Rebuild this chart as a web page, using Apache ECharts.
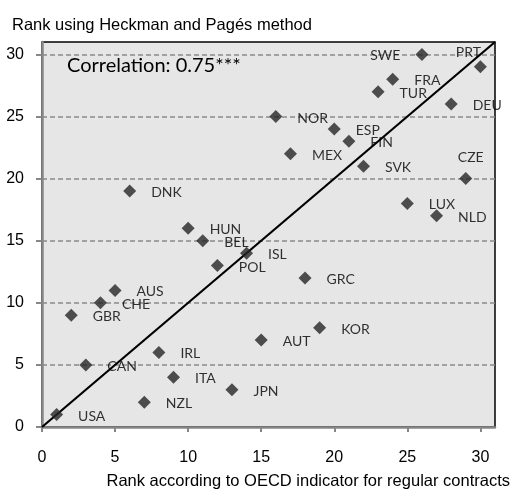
<!DOCTYPE html>
<html>
<head>
<meta charset="utf-8">
<script src="https://cdn.jsdelivr.net/npm/echarts@6/dist/echarts.min.js"></script>
<style>html,body{margin:0;padding:0;background:#fff;}#c{width:513px;height:490px;}</style>
</head>
<body>
<div id="c"></div>
<script>
const countries = ['USA','GBR','CAN','CHE','AUS','DNK','NZL','IRL','ITA','HUN','BEL','POL','JPN','ISL','AUT','NOR','MEX','GRC','KOR','ESP','FIN','SVK','TUR','FRA','LUX','SWE','NLD','DEU','CZE','PRT'];
const oecdRank = [1,2,3,4,5,6,7,8,9,10,11,12,13,14,15,16,17,18,19,20,21,22,23,24,25,26,27,28,29,30];
const heckmanRank = [1,9,5,10,11,19,2,6,4,16,15,13,3,14,7,25,22,12,8,24,23,21,27,28,18,30,17,26,20,29];
const tickValues = [0,5,10,15,20,25,30];
const gridValues = [5,10,15,20,25,30];
const diagonal = [0,31];
const yTitle = 'Rank using Heckman and Pagés method';
const xTitle = 'Rank according to OECD indicator for regular contracts';
const note = 'Correlation: 0.75***';

const labelOverrides = {
  SWE: {position:'left', distance:15, offset:[0,1]},
  PRT: {position:'inside', offset:[-12,-14]},
  CZE: {position:'inside', offset:[5,-21]}
};

const points = countries.map((c,i)=>{
  const d = {name:c, value:[oecdRank[i], heckmanRank[i]]};
  if (labelOverrides[c]) d.label = labelOverrides[c];
  return d;
});

const chart = echarts.init(document.getElementById('c'));
const axisGray = '#878787';
chart.setOption({
  animation:false,
  backgroundColor:'#ffffff',
  grid:{left:42, right:18, top:42, bottom:63, show:true, backgroundColor:'#e6e6e6', borderColor:'#000', borderWidth:1.5},
  xAxis:{type:'value', min:diagonal[0], max:diagonal[1], interval:5,
    axisLine:{lineStyle:{color:axisGray, width:2.5}},
    axisTick:{show:true, customValues:tickValues, length:5, lineStyle:{color:axisGray, width:2}},
    axisLabel:{customValues:tickValues, margin:23, fontSize:16, color:'#000', fontFamily:'Liberation Sans'},
    splitLine:{show:false}},
  yAxis:{type:'value', min:diagonal[0], max:diagonal[1], interval:5,
    axisLine:{show:true, lineStyle:{color:axisGray, width:2.5}},
    axisTick:{show:true, customValues:tickValues, length:6, lineStyle:{color:axisGray, width:2}},
    axisLabel:{customValues:tickValues, margin:18, fontSize:16, color:'#000', fontFamily:'Liberation Sans'},
    splitLine:{show:false}},
  graphic:[
    {type:'text', left:12, top:17, style:{text:yTitle, font:'16.5px "Liberation Sans"', fill:'#000'}},
    {type:'text', right:3, top:473, style:{text:xTitle, font:'16.5px "Liberation Sans"', fill:'#000'}},
    {type:'text', left:67, top:56, z:10, style:{text:note, font:'20px Lato', fill:'#000'}}
  ],
  series:[
    {type:'line', data:[[diagonal[0],diagonal[0]],[diagonal[1],diagonal[1]]], symbol:'none', z:2,
     lineStyle:{color:'#000', width:2.2},
     markLine:{silent:true, symbol:'none', z:1, label:{show:false},
       lineStyle:{color:'#8a8a8a', width:1.6, type:[5,3]},
       data:gridValues.map(v=>({yAxis:v}))}},
    {type:'scatter', data:points, symbol:'diamond', symbolSize:13, z:3,
     itemStyle:{color:'#262626'},
     label:{show:true, formatter:'{b}', position:'right', distance:15, offset:[0,1.5],
       fontFamily:'Lato', fontSize:14, color:'#000'}}
  ]
});
</script>
</body>
</html>
